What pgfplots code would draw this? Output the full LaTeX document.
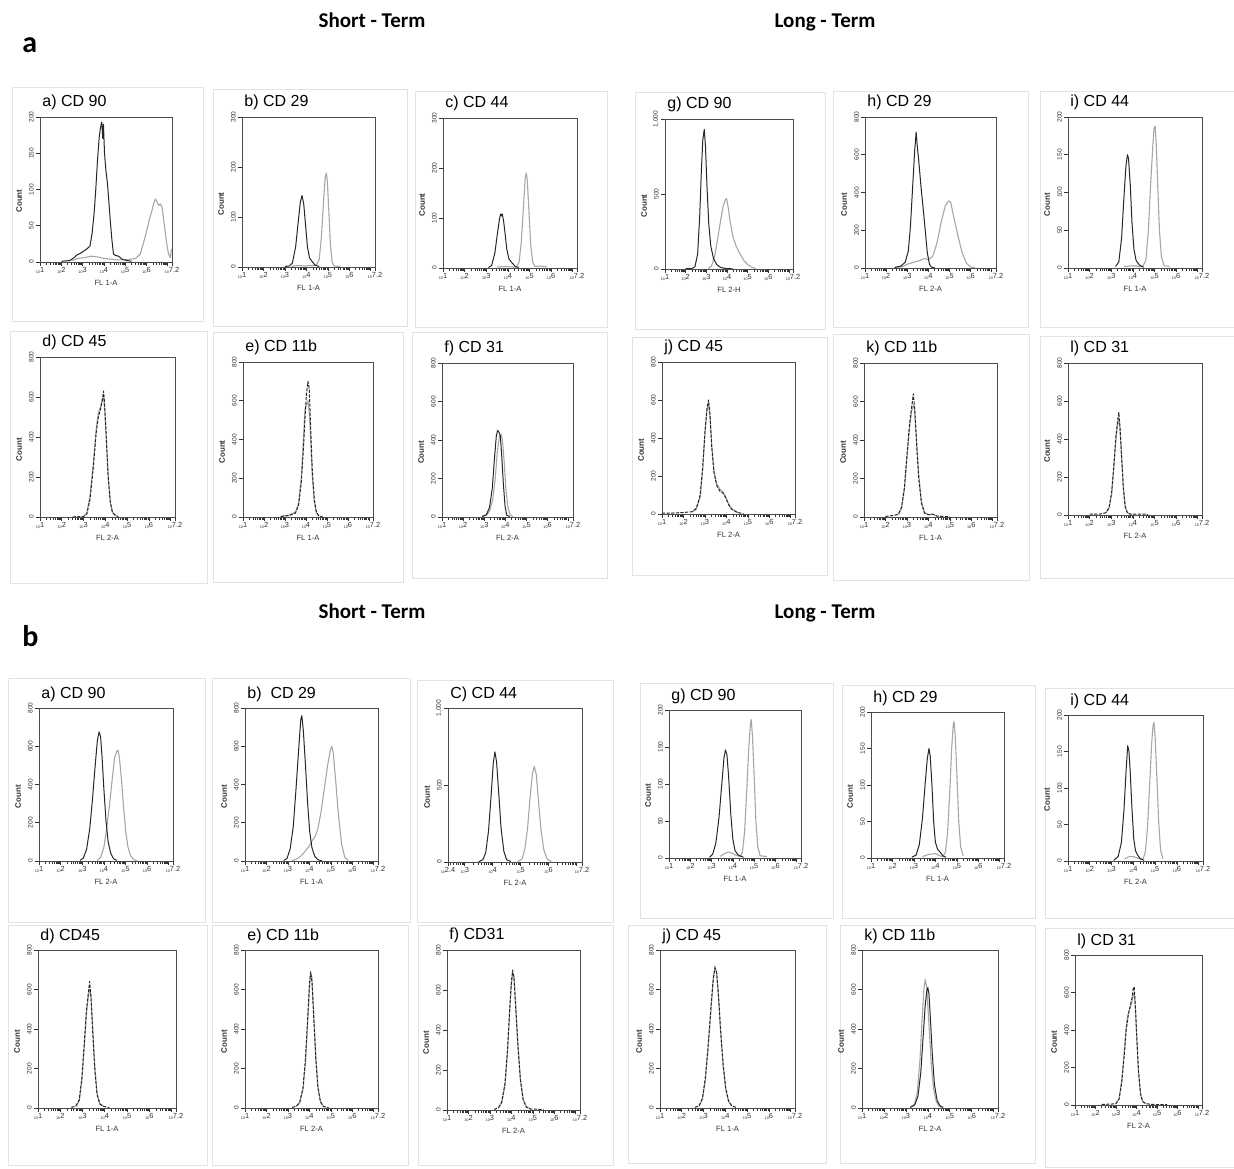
\documentclass[border=0pt]{standalone}
\usepackage{pgfplots}
\pgfplotsset{compat=1.18}
\usepackage{fontspec}
\setmainfont{Liberation Sans}
\newfontfamily\hdr{Carlito}
\newcommand\xl[1]{{\fontsize{1.9}{2}\selectfont 10}\raisebox{0.5pt}{\fontsize{3.7}{4}\selectfont #1}}
\newcommand\frm[4]{\draw[black!11, line width=0.5pt] ({#1*0.5pt},{(1168-#2)*0.5pt}) rectangle ({#3*0.5pt},{(1168-#4)*0.5pt});}
\pgfplotsset{
 place/.code n args={4}{%
  \pgfmathsetmacro\pL{#1*0.5}%
  \pgfmathsetmacro\pB{(1168-#4)*0.5}%
  \pgfmathsetmacro\pW{(#3-#1)*0.5}%
  \pgfmathsetmacro\pH{(#4-#2)*0.5}%
  \edef\pgfplotsplacetmp{\noexpand\pgfplotsset{at={(\pL pt,\pB pt)},anchor=south west,width=\pW pt,height=\pH pt}}%
  \pgfplotsplacetmp},
 hist/.style={
  scale only axis,
  xmin=1, xmax=7.2, ymin=0,
  axis line style={black!70, line width=0.45pt},
  tick align=outside,
  xtick pos=left, ytick pos=left,
  major tick length=2pt, minor tick length=1.4pt,
  every tick/.style={black!80, line width=0.3pt},
  xtick={1,2,3,4,5,6,7,7.2},
  xticklabels={{\xl{1}},{\xl{2}},{\xl{3}},{\xl{4}},{\xl{5}},{\xl{6}},{},{\xl{7.2}}},
  minor xtick={1.301,1.477,1.602,1.699,1.778,1.845,1.903,1.954,
   2.301,2.477,2.602,2.699,2.778,2.845,2.903,2.954,
   3.301,3.477,3.602,3.699,3.778,3.845,3.903,3.954,
   4.301,4.477,4.602,4.699,4.778,4.845,4.903,4.954,
   5.301,5.477,5.602,5.699,5.778,5.845,5.903,5.954,
   6.301,6.477,6.602,6.699,6.778,6.845,6.903,6.954},
  xticklabel style={inner sep=0.6pt, text=black!80},
  yticklabel style={rotate=90, anchor=south, inner sep=0.9pt, font=\fontsize{3.3}{4}\selectfont, text=black!80},
  /pgf/number format/assume math mode=true,
  ylabel={Count},
  every axis y label/.style={at={(0,0.42)}, xshift=-10.5pt, rotate=90, anchor=center, inner sep=0pt, font=\bfseries\fontsize{4}{4.5}\selectfont, text=black!80},
  every axis x label/.style={at={(0.5,0)}, anchor=north, yshift=-9pt, inner sep=0pt, font=\fontsize{3.8}{4.5}\selectfont, text=black!80},
  every axis title/.style={at={(0,1)}, anchor=base west, yshift=5pt, xshift=1pt, inner sep=0pt, font=\fontsize{8}{9}\selectfont},
 },
 y200/.style={ymax=200, ytick={0,50,100,150,200}},
 y300/.style={ymax=300, ytick={0,100,200,300}},
 y800/.style={ymax=800, ytick={0,200,400,600,800}},
 y1000/.style={ymax=1000, ytick={0,500,1000}, yticklabels={0,500,{1,000}}},
 dk/.style={black!85, line width=0.5pt, line join=round},
 dkd/.style={black!85, line width=0.5pt, line join=round, dash pattern=on 1.6pt off 0.7pt},
 lt/.style={black!35, line width=0.55pt, line join=round},
}
\begin{document}
\begin{tikzpicture}
\useasboundingbox (0,0) rectangle (617pt,584pt);
% panel frames
\frm{12}{88}{203}{322}\frm{213}{90}{407}{327}\frm{415}{92}{607}{328}
\frm{635}{93}{825}{330}\frm{833}{92}{1028}{328}\frm{1040}{92}{1240}{328}
\frm{10}{332}{207}{583}\frm{213}{333}{403}{582}\frm{412}{333}{607}{578}
\frm{632}{338}{827}{575}\frm{833}{335}{1029}{580}\frm{1040}{337}{1240}{578}
\frm{8}{678}{205}{922}\frm{212}{678}{410}{922}\frm{417}{680}{613}{922}
\frm{640}{683}{833}{918}\frm{842}{685}{1035}{918}\frm{1045}{688}{1240}{918}
\frm{8}{925}{207}{1165}\frm{212}{925}{408}{1165}\frm{418}{925}{613}{1165}
\frm{628}{925}{826}{1163}\frm{840}{925}{1035}{1163}\frm{1045}{928}{1240}{1167}
% headers
\node[anchor=base, inner sep=0pt, font=\hdr\bfseries\fontsize{10.5}{12}\selectfont] at (186pt,570pt) {Short - Term};
\node[anchor=base, inner sep=0pt, font=\hdr\bfseries\fontsize{10.5}{12}\selectfont] at (412.5pt,570pt) {Long - Term};
\node[anchor=base west, inner sep=0pt, font=\hdr\bfseries\fontsize{15}{16}\selectfont] at (11pt,557.5pt) {a};
\node[anchor=base, inner sep=0pt, font=\hdr\bfseries\fontsize{10.5}{12}\selectfont] at (186pt,275pt) {Short - Term};
\node[anchor=base, inner sep=0pt, font=\hdr\bfseries\fontsize{10.5}{12}\selectfont] at (412.5pt,275pt) {Long - Term};
\node[anchor=base west, inner sep=0pt, font=\hdr\bfseries\fontsize{15}{16}\selectfont] at (11pt,261pt) {b};

%% ===== Block a, row 1 =====
\begin{axis}[hist, place={40}{117}{172}{262}, y200, title={a) CD 90}, xlabel={FL 1-A}]
\addplot[lt] coordinates {(2.5,2)(2.8,5)(3.1,6)(3.4,8)(3.7,7)(4.0,5)(4.3,4)(4.6,3)(5.0,3)(5.3,4)(5.5,5)(5.71,11)(5.85,25)(6.02,44)(6.15,60)(6.26,71)(6.35,82)(6.42,87)(6.5,83)(6.57,78)(6.65,80)(6.73,76)(6.8,60)(6.89,39)(6.97,22)(7.04,11)(7.12,6)(7.18,18)};
\addplot[dk] coordinates {(2.0,1)(2.4,2)(2.6,6)(2.75,10)(2.9,12)(3.05,15)(3.2,18)(3.35,22)(3.45,40)(3.55,70)(3.62,100)(3.7,140)(3.78,172)(3.84,185)(3.9,193)(3.95,170)(3.98,190)(4.03,150)(4.1,125)(4.17,108)(4.23,85)(4.3,57)(4.38,30)(4.45,11)(4.55,9)(4.69,8)(4.85,4)(5.08,2)(5.3,1)};
\end{axis}
\begin{axis}[hist, place={242}{117}{375}{267}, y300, title={b) CD 29}, xlabel={FL 1-A}]
\addplot[lt] coordinates {(3.3,1)(3.6,3)(3.9,2)(4.2,3)(4.45,3)(4.6,15)(4.7,60)(4.8,130)(4.88,180)(4.93,188)(4.98,170)(5.05,110)(5.12,45)(5.2,10)(5.3,2)(5.6,1)};
\addplot[dk] coordinates {(3.0,1)(3.2,2)(3.35,8)(3.5,40)(3.62,90)(3.72,130)(3.8,143)(3.88,125)(3.97,80)(4.05,40)(4.15,18)(4.25,12)(4.4,4)(4.6,1)};
\end{axis}
\begin{axis}[hist, place={443}{118}{577}{268}, y300, title={c) CD 44}, xlabel={FL 1-A}]
\addplot[lt] coordinates {(3.5,2)(3.9,3)(4.2,2)(4.4,2)(4.52,12)(4.62,50)(4.72,120)(4.8,178)(4.85,190)(4.9,175)(4.98,110)(5.06,45)(5.15,12)(5.25,3)(5.5,4)(5.8,2)};
\addplot[dk] coordinates {(3.1,1)(3.25,5)(3.4,30)(3.52,70)(3.62,100)(3.67,108)(3.7,104)(3.74,108)(3.8,95)(3.87,70)(3.95,38)(4.05,18)(4.2,10)(4.35,3)(4.5,1)};
\end{axis}
\begin{axis}[hist, place={665}{119}{793}{269}, y1000, title={g) CD 90}, xlabel={FL 2-H}]
\addplot[lt] coordinates {(3.1,3)(3.25,20)(3.4,80)(3.55,200)(3.7,330)(3.82,420)(3.92,460)(3.98,470)(4.05,420)(4.15,320)(4.3,210)(4.45,150)(4.6,110)(4.8,60)(5.0,30)(5.2,12)(5.4,3)};
\addplot[dk] coordinates {(2.0,2)(2.3,3)(2.45,15)(2.58,100)(2.68,350)(2.76,650)(2.83,860)(2.9,930)(2.96,820)(3.03,560)(3.12,300)(3.22,150)(3.35,70)(3.5,30)(3.7,10)(3.95,3)(4.3,1)};
\end{axis}
\begin{axis}[hist, place={865}{117}{996}{268}, y800, title={h) CD 29}, xlabel={FL 2-A}]
\addplot[lt] coordinates {(2.4,2)(2.8,8)(3.0,20)(3.3,30)(3.6,40)(3.8,50)(4.0,45)(4.2,60)(4.4,130)(4.6,240)(4.8,330)(4.95,355)(5.05,350)(5.2,270)(5.4,170)(5.6,80)(5.8,25)(6.0,6)(6.2,1)};
\addplot[dk] coordinates {(2.4,3)(2.7,10)(2.9,30)(3.05,90)(3.15,220)(3.25,420)(3.35,620)(3.42,720)(3.47,650)(3.55,560)(3.65,430)(3.75,320)(3.85,200)(3.95,80)(4.05,20)(4.15,4)(4.3,1)};
\end{axis}
\begin{axis}[hist, place={1068}{117}{1202}{268}, y200, title={i) CD 44}, xlabel={FL 1-A}]
\addplot[lt] coordinates {(3.6,2)(4.0,3)(4.3,2)(4.45,2)(4.6,10)(4.72,50)(4.82,110)(4.92,160)(4.98,185)(5.03,188)(5.08,165)(5.15,110)(5.23,50)(5.32,15)(5.45,3)(5.7,2)};
\addplot[dk] coordinates {(3.2,2)(3.35,8)(3.48,40)(3.58,90)(3.68,135)(3.75,150)(3.8,145)(3.88,110)(3.96,60)(4.05,25)(4.15,10)(4.3,4)(4.5,1)};
\end{axis}

%% ===== Block a, row 2 =====
\begin{axis}[hist, place={40}{357}{175}{517}, y800, title={d) CD 45}, xlabel={FL 2-A}]
\addplot[lt] coordinates {(3.0,3)(3.15,20)(3.3,110)(3.45,270)(3.58,440)(3.68,520)(3.78,550)(3.86,590)(3.92,600)(3.98,520)(4.05,380)(4.14,190)(4.25,60)(4.35,20)(4.5,5)};
\addplot[dkd] coordinates {(2.5,1)(3.0,2)(3.15,15)(3.3,90)(3.45,250)(3.58,420)(3.68,500)(3.78,540)(3.86,580)(3.92,630)(3.97,560)(4.03,430)(4.12,220)(4.22,80)(4.32,25)(4.45,8)(4.6,2)};
\end{axis}
\begin{axis}[hist, place={243}{362}{373}{517}, y800, title={e) CD 11b}, xlabel={FL 1-A}]
\addplot[lt] coordinates {(2.8,3)(3.2,10)(3.5,25)(3.65,70)(3.78,200)(3.88,400)(3.96,560)(4.03,580)(4.1,600)(4.16,540)(4.22,420)(4.3,220)(4.4,80)(4.5,20)(4.62,5)};
\addplot[dkd] coordinates {(2.8,2)(3.2,8)(3.5,20)(3.65,60)(3.78,180)(3.88,350)(3.96,520)(4.03,640)(4.1,700)(4.16,660)(4.22,480)(4.3,250)(4.4,90)(4.5,25)(4.62,5)(4.8,1)};
\end{axis}
\begin{axis}[hist, place={442}{363}{573}{517}, y800, title={f) CD 31}, xlabel={FL 2-A}]
\addplot[lt] coordinates {(2.9,2)(3.1,8)(3.25,30)(3.4,90)(3.52,200)(3.62,340)(3.72,420)(3.8,430)(3.86,400)(3.94,290)(4.02,150)(4.12,50)(4.22,12)(4.35,2)};
\addplot[dk] coordinates {(2.9,3)(3.1,12)(3.25,50)(3.38,150)(3.48,300)(3.57,420)(3.63,450)(3.7,440)(3.76,420)(3.82,330)(3.9,180)(3.98,60)(4.06,10)(4.2,2)};
\end{axis}
\begin{axis}[hist, place={662}{362}{795}{514}, y800, title={j) CD 45}, xlabel={FL 2-A}]
\addplot[lt] coordinates {(2.4,10)(2.6,25)(2.78,90)(2.9,240)(3.0,420)(3.1,550)(3.17,580)(3.24,510)(3.32,360)(3.42,230)(3.55,160)(3.7,130)(3.85,115)(3.95,95)(4.1,55)(4.25,28)(4.45,12)(4.6,5)};
\addplot[dkd] coordinates {(1.0,5)(1.5,5)(2.0,8)(2.4,12)(2.6,30)(2.78,100)(2.9,250)(3.0,430)(3.1,560)(3.17,600)(3.24,520)(3.32,350)(3.42,220)(3.55,150)(3.7,120)(3.85,110)(3.95,90)(4.1,50)(4.25,25)(4.45,12)(4.6,6)(4.8,2)};
\end{axis}
\begin{axis}[hist, place={864}{363}{997}{517}, y800, title={k) CD 11b}, xlabel={FL 1-A}]
\addplot[lt] coordinates {(2.6,12)(2.75,45)(2.88,140)(3.0,300)(3.12,460)(3.22,550)(3.3,580)(3.36,560)(3.45,400)(3.55,220)(3.68,80)(3.82,25)(4.0,12)(4.2,14)(4.4,5)};
\addplot[dkd] coordinates {(2.0,3)(2.4,8)(2.6,15)(2.75,50)(2.88,150)(3.0,320)(3.12,480)(3.22,570)(3.3,640)(3.36,560)(3.45,380)(3.55,200)(3.68,70)(3.82,20)(4.0,12)(4.2,15)(4.4,5)(4.7,3)(5.0,1)};
\end{axis}
\begin{axis}[hist, place={1068}{363}{1202}{515}, y800, title={l) CD 31}, xlabel={FL 2-A}]
\addplot[lt] coordinates {(2.75,10)(2.9,35)(3.02,110)(3.12,250)(3.22,400)(3.3,480)(3.35,500)(3.4,460)(3.48,310)(3.56,150)(3.65,45)(3.75,12)(3.9,4)};
\addplot[dkd] coordinates {(2.0,5)(2.5,5)(2.75,12)(2.9,40)(3.02,120)(3.12,260)(3.22,420)(3.3,500)(3.35,540)(3.4,470)(3.48,300)(3.56,140)(3.65,40)(3.75,10)(3.9,4)(4.5,5)(4.7,2)};
\end{axis}

%% ===== Block b, row 1 =====
\begin{axis}[hist, place={39}{708}{173}{861}, y800, title={a) CD 90}, xlabel={FL 2-A}]
\addplot[lt] coordinates {(3.7,3)(3.85,20)(4.0,70)(4.12,160)(4.25,280)(4.38,420)(4.5,540)(4.6,575)(4.66,580)(4.72,540)(4.82,420)(4.92,270)(5.02,150)(5.12,70)(5.25,25)(5.4,6)(5.55,1)};
\addplot[dk] coordinates {(2.9,3)(3.05,15)(3.2,60)(3.35,170)(3.48,330)(3.6,500)(3.7,630)(3.78,675)(3.85,650)(3.92,540)(4.0,380)(4.1,210)(4.2,100)(4.32,40)(4.45,12)(4.6,3)};
\end{axis}
\begin{axis}[hist, place={245}{708}{378}{861}, y800, title={b)\ \ CD 29}, xlabel={FL 1-A}]
\addplot[lt] coordinates {(3.2,2)(3.4,10)(3.6,25)(3.8,50)(4.0,80)(4.15,110)(4.28,130)(4.4,170)(4.55,260)(4.7,380)(4.85,500)(4.98,580)(5.05,600)(5.12,560)(5.22,430)(5.35,250)(5.5,90)(5.65,20)(5.8,3)};
\addplot[dk] coordinates {(2.8,3)(2.95,12)(3.1,60)(3.25,180)(3.38,380)(3.5,580)(3.6,740)(3.65,760)(3.72,680)(3.82,500)(3.92,300)(4.02,150)(4.12,70)(4.25,25)(4.4,6)(4.6,1)};
\end{axis}
\begin{axis}[hist, place={448}{708}{582}{862}, y1000, xmin=2.4, xtick={2.4,3,4,5,6,7,7.2},
  xticklabels={{\xl{2.4}},{\xl{3}},{\xl{4}},{\xl{5}},{\xl{6}},{},{\xl{7.2}}}, title={C) CD 44}, xlabel={FL 2-A}]
\addplot[lt] coordinates {(4.9,2)(5.05,20)(5.15,80)(5.25,220)(5.34,420)(5.43,580)(5.49,620)(5.56,570)(5.64,400)(5.73,210)(5.83,80)(5.95,20)(6.1,3)};
\addplot[dk] coordinates {(3.5,2)(3.65,15)(3.75,60)(3.85,200)(3.94,420)(4.02,640)(4.08,715)(4.14,650)(4.22,440)(4.3,220)(4.4,70)(4.5,15)(4.65,3)};
\end{axis}
\begin{axis}[hist, place={669}{710}{801}{858}, y200, title={g) CD 90}, xlabel={FL 1-A}]
\addplot[lt] coordinates {(3.4,2)(3.6,6)(3.8,8)(4.0,6)(4.2,3)(4.35,2)(4.45,8)(4.55,35)(4.65,90)(4.75,150)(4.82,180)(4.86,187)(4.92,165)(5.0,110)(5.08,50)(5.17,15)(5.28,3)(5.6,2)};
\addplot[dk] coordinates {(2.9,1)(3.05,5)(3.2,20)(3.35,55)(3.48,100)(3.58,135)(3.65,146)(3.72,140)(3.8,110)(3.9,60)(4.0,25)(4.1,10)(4.25,4)(4.5,1)};
\end{axis}
\begin{axis}[hist, place={871}{712}{1004}{858}, y200, title={h) CD 29}, xlabel={FL 1-A}]
\addplot[lt] coordinates {(3.4,2)(3.7,5)(4.0,6)(4.2,3)(4.35,2)(4.47,8)(4.57,35)(4.67,90)(4.76,150)(4.83,182)(4.87,187)(4.93,165)(5.01,110)(5.09,50)(5.18,15)(5.3,3)};
\addplot[dk] coordinates {(2.9,1)(3.1,4)(3.25,18)(3.4,55)(3.52,100)(3.62,135)(3.7,150)(3.76,140)(3.84,100)(3.92,50)(4.0,22)(4.1,12)(4.22,8)(4.35,3)(4.5,1)};
\end{axis}
\begin{axis}[hist, place={1068}{715}{1203}{861}, y200, title={i) CD 44}, xlabel={FL 2-A}]
\addplot[lt] coordinates {(3.6,3)(3.8,6)(4.0,6)(4.3,3)(4.45,3)(4.55,12)(4.65,45)(4.75,105)(4.84,160)(4.9,185)(4.95,190)(5.0,170)(5.08,115)(5.16,55)(5.25,15)(5.36,3)};
\addplot[dk] coordinates {(3.1,1)(3.3,6)(3.45,25)(3.57,70)(3.67,125)(3.74,158)(3.8,150)(3.86,120)(3.94,70)(4.02,30)(4.1,14)(4.2,8)(4.32,3)(4.5,1)};
\end{axis}

%% ===== Block b, row 2 =====
\begin{axis}[hist, place={38}{950}{176}{1108}, y800, title={d) CD45}, xlabel={FL 1-A}]
\addplot[lt] coordinates {(2.7,8)(2.85,35)(2.97,140)(3.08,310)(3.18,480)(3.26,560)(3.32,600)(3.38,570)(3.46,400)(3.55,210)(3.65,75)(3.78,22)(3.95,8)};
\addplot[dkd] coordinates {(2.5,3)(2.7,10)(2.85,40)(2.97,150)(3.08,330)(3.18,500)(3.26,580)(3.32,640)(3.38,560)(3.46,380)(3.55,200)(3.65,70)(3.78,20)(3.95,8)(4.2,3)};
\end{axis}
\begin{axis}[hist, place={245}{950}{378}{1108}, y800, title={e) CD 11b}, xlabel={FL 2-A}]
\addplot[lt] coordinates {(3.4,8)(3.55,25)(3.7,90)(3.82,230)(3.92,430)(4.0,600)(4.06,680)(4.12,660)(4.2,480)(4.3,260)(4.4,110)(4.52,35)(4.65,10)};
\addplot[dkd] coordinates {(3.2,3)(3.4,10)(3.55,30)(3.7,100)(3.82,250)(3.92,450)(4.0,620)(4.06,690)(4.12,640)(4.2,470)(4.3,250)(4.4,100)(4.52,30)(4.65,8)(4.9,2)};
\end{axis}
\begin{axis}[hist, place={447}{950}{580}{1110}, y800, title={f) CD31}, xlabel={FL 2-A}]
\addplot[lt] coordinates {(3.4,10)(3.55,35)(3.7,120)(3.82,290)(3.92,490)(4.0,630)(4.06,680)(4.12,670)(4.2,530)(4.3,340)(4.42,160)(4.55,55)(4.7,15)(4.9,5)};
\addplot[dkd] coordinates {(3.2,3)(3.4,12)(3.55,40)(3.7,130)(3.82,300)(3.92,500)(4.0,640)(4.06,700)(4.12,660)(4.2,520)(4.3,330)(4.42,150)(4.55,50)(4.7,15)(4.9,5)(5.5,3)};
\end{axis}
\begin{axis}[hist, place={660}{950}{795}{1108}, y800, title={j) CD 45}, xlabel={FL 1-A}]
\addplot[lt] coordinates {(2.8,10)(2.95,45)(3.08,140)(3.2,290)(3.32,470)(3.44,640)(3.52,720)(3.6,680)(3.68,570)(3.78,390)(3.9,210)(4.02,95)(4.15,32)(4.3,10)};
\addplot[dkd] coordinates {(2.6,3)(2.8,12)(2.95,50)(3.08,150)(3.2,300)(3.32,480)(3.44,650)(3.52,710)(3.6,690)(3.68,580)(3.78,400)(3.9,220)(4.02,100)(4.15,35)(4.3,10)(4.5,3)};
\end{axis}
\begin{axis}[hist, place={862}{950}{998}{1108}, y800, title={k) CD 11b}, xlabel={FL 2-A}]
\addplot[lt] coordinates {(3.2,4)(3.4,20)(3.52,80)(3.64,240)(3.74,450)(3.82,600)(3.88,650)(3.94,620)(4.0,520)(4.08,370)(4.16,220)(4.26,100)(4.38,35)(4.5,10)(4.65,3)};
\addplot[dk] coordinates {(3.2,3)(3.4,15)(3.55,60)(3.68,180)(3.78,350)(3.88,520)(3.95,590)(4.0,610)(4.05,580)(4.12,450)(4.2,280)(4.3,120)(4.42,40)(4.55,12)(4.7,3)};
\end{axis}
\begin{axis}[hist, place={1075}{955}{1202}{1105}, y800, title={l) CD 31}, xlabel={FL 2-A}]
\addplot[lt] coordinates {(3.0,8)(3.15,35)(3.28,130)(3.4,280)(3.5,420)(3.6,490)(3.7,520)(3.78,550)(3.84,590)(3.89,600)(3.95,510)(4.02,340)(4.1,170)(4.2,55)(4.3,18)(4.45,7)};
\addplot[dkd] coordinates {(2.3,3)(2.8,5)(3.0,8)(3.15,30)(3.28,120)(3.4,260)(3.5,400)(3.6,480)(3.7,530)(3.78,570)(3.84,620)(3.89,630)(3.95,520)(4.02,350)(4.1,180)(4.2,60)(4.3,20)(4.45,8)(4.7,3)(5.5,2)};
\end{axis}
\end{tikzpicture}
\end{document}
